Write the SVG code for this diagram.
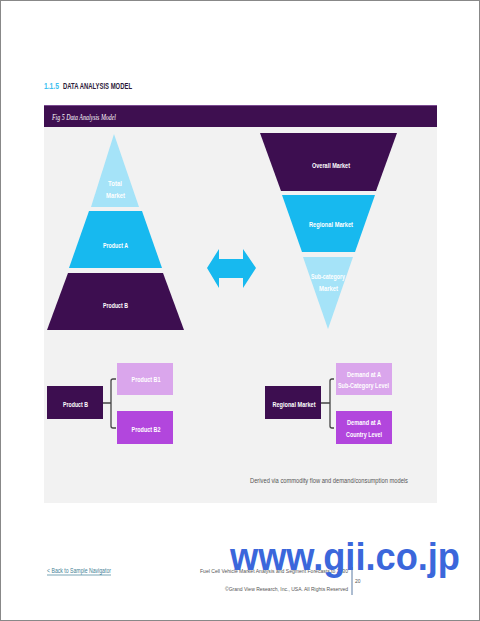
<svg xmlns="http://www.w3.org/2000/svg" width="480" height="621" viewBox="0 0 480 621">
<style>
.lbl{font-family:"Liberation Sans",Arial,sans-serif;font-size:7.5px;font-weight:bold;fill:#ffffff;text-anchor:middle}
.dark{fill:#3d0e50}
.cyan{fill:#17b9ef}
.lblue{fill:#a5e3f8}
.lpur{fill:#daa6ec}
.mpur{fill:#b246dd}
.br{fill:none;stroke:#444444;stroke-width:1.3;stroke-linejoin:round}
.foot{font-family:"Liberation Sans",Arial,sans-serif;font-size:6px;fill:#555555}
</style>
<rect x="0.5" y="0.5" width="479" height="620" fill="#ffffff" stroke="#888888" stroke-width="1"/>
<text x="44" y="88.5" font-family="Liberation Sans,Arial,sans-serif" font-size="9.5" font-weight="bold" fill="#3cc0f0" textLength="15" lengthAdjust="spacingAndGlyphs">1.1.5</text>
<text x="63" y="88.5" font-family="Liberation Sans,Arial,sans-serif" font-size="9.5" font-weight="bold" fill="#2b1838" textLength="69" lengthAdjust="spacingAndGlyphs">DATA ANALYSIS MODEL</text>
<rect x="44" y="127" width="393" height="376" fill="#f2f2f2"/>
<rect x="44" y="105" width="393" height="22" fill="#3e0f50"/>
<line x1="44" y1="105.5" x2="437" y2="105.5" stroke="#7a4a90" stroke-width="1"/>
<text x="52" y="120" font-family="Liberation Serif,Times New Roman,serif" font-style="italic" font-size="8.5" fill="#ffffff" textLength="64" lengthAdjust="spacingAndGlyphs">Fig 5  Data Analysis Model</text>

<g id="pyramid-total">
<polygon class="lblue" points="114,134 139,207 91,207"/>
<text class="lbl" x="115" y="186" textLength="14" lengthAdjust="spacingAndGlyphs">Total</text>
<text class="lbl" x="115.5" y="198" textLength="19" lengthAdjust="spacingAndGlyphs">Market</text>
</g>
<g id="pyramid-productA">
<polygon class="cyan" points="89,211 142,211 162,268 69,268"/>
<text class="lbl" x="115.5" y="248" textLength="25" lengthAdjust="spacingAndGlyphs">Product A</text>
</g>
<g id="pyramid-productB">
<polygon class="dark" points="68,273 163,273 184,330 47,330"/>
<text class="lbl" x="115.5" y="308" textLength="25" lengthAdjust="spacingAndGlyphs">Product B</text>
</g>

<g id="funnel-overall">
<polygon class="dark" points="260,133 397,133 376,191 281,191"/>
<text class="lbl" x="331" y="168" textLength="38" lengthAdjust="spacingAndGlyphs">Overall Market</text>
</g>
<g id="funnel-regional">
<polygon class="cyan" points="282,195 375,195 355,252 302,252"/>
<text class="lbl" x="331" y="227" textLength="44" lengthAdjust="spacingAndGlyphs">Regional Market</text>
</g>
<g id="funnel-subcategory">
<polygon class="lblue" points="303,257 353,257 328,329"/>
<text class="lbl" x="328" y="279" textLength="34" lengthAdjust="spacingAndGlyphs">Sub-category</text>
<text class="lbl" x="328.5" y="291" textLength="19" lengthAdjust="spacingAndGlyphs">Market</text>
</g>

<g id="double-arrow">
<polygon class="cyan" points="207,268 219,249 219,259 243,259 243,249 256,268 243,288 243,278 219,278 219,288"/>
</g>

<g id="node-productB">
<rect class="dark" x="47" y="386" width="56" height="33"/>
<text class="lbl" x="75.5" y="407" textLength="25" lengthAdjust="spacingAndGlyphs">Product B</text>
</g>
<g id="node-productB1">
<rect class="lpur" x="117" y="363" width="56" height="32"/>
<text class="lbl" x="146" y="382" textLength="29" lengthAdjust="spacingAndGlyphs">Product B1</text>
</g>
<g id="node-productB2">
<rect class="mpur" x="117" y="411" width="56" height="33"/>
<text class="lbl" x="146" y="432" textLength="29" lengthAdjust="spacingAndGlyphs">Product B2</text>
</g>
<g id="node-regional">
<rect class="dark" x="265" y="386" width="56" height="33"/>
<text class="lbl" x="294" y="407" textLength="43" lengthAdjust="spacingAndGlyphs">Regional Market</text>
</g>
<g id="node-demand-subcat">
<rect class="lpur" x="336" y="363" width="56" height="32"/>
<text class="lbl" x="364" y="377" textLength="34" lengthAdjust="spacingAndGlyphs">Demand at A</text>
<text class="lbl" x="363.5" y="388" textLength="51" lengthAdjust="spacingAndGlyphs">Sub-Category Level</text>
</g>
<g id="node-demand-country">
<rect class="mpur" x="336" y="411" width="56" height="33"/>
<text class="lbl" x="364" y="425" textLength="34" lengthAdjust="spacingAndGlyphs">Demand at A</text>
<text class="lbl" x="364" y="437" textLength="36" lengthAdjust="spacingAndGlyphs">Country Level</text>
</g>

<g id="connectors">
<path class="br" d="M103,403 H111 M116,379 H113 Q111,379 111,381 V426 Q111,428 113,428 H116"/>
<path class="br" d="M321,403 H330 M334,379 H332 Q330,379 330,381 V426 Q330,428 332,428 H334"/>
</g>

<text x="250" y="483" font-family="Liberation Sans,Arial,sans-serif" font-size="7" fill="#555555" textLength="158" lengthAdjust="spacingAndGlyphs">Derived via commodity flow and demand/consumption models</text>

<text x="47" y="573" font-family="Liberation Sans,Arial,sans-serif" font-size="6.5" fill="#3f7f95" textLength="64" lengthAdjust="spacingAndGlyphs">&lt; Back to Sample Navigator</text>
<line x1="47" y1="575" x2="111" y2="575" stroke="#3f7f95" stroke-width="0.7"/>
<text class="foot" x="200" y="573" textLength="148" lengthAdjust="spacingAndGlyphs">Fuel Cell Vehicle Market Analysis and Segment Forecasts to 2030</text>
<text class="foot" x="225" y="591" textLength="123" lengthAdjust="spacingAndGlyphs">©Grand View Research, Inc., USA. All Rights Reserved</text>
<line x1="352" y1="567" x2="352" y2="595" stroke="#5b7aa3" stroke-width="1"/>
<text x="355" y="583" font-family="Liberation Sans,Arial,sans-serif" font-size="5" fill="#555555">20</text>

<text x="230" y="570" font-family="Liberation Sans,Arial,sans-serif" font-size="38" font-weight="bold" fill="#3b67db" textLength="230" lengthAdjust="spacingAndGlyphs">www.gii.co.jp</text>
</svg>
